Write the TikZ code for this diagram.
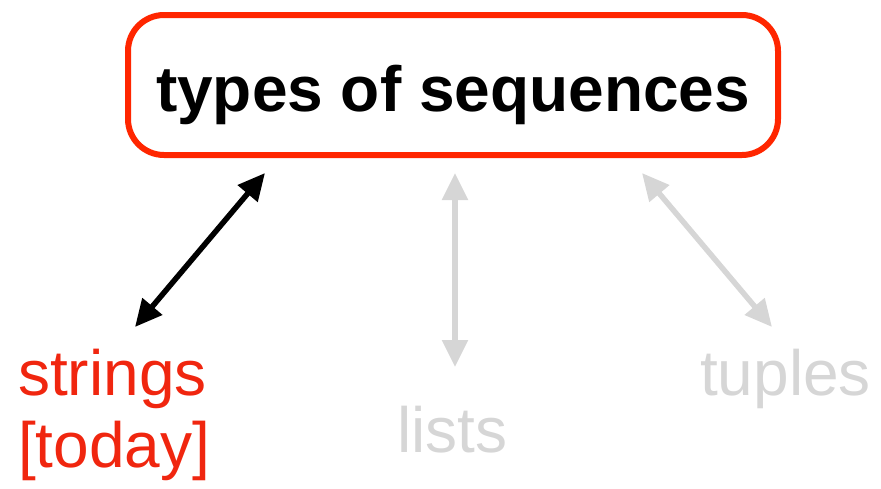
\documentclass[tikz,border=0pt]{standalone}
\usepackage{fontspec}
\setmainfont{Liberation Sans}
\usetikzlibrary{arrows.meta}
\definecolor{boxred}{HTML}{FF2600}
\definecolor{txtred}{HTML}{F0260F}
\definecolor{lightgray}{HTML}{D6D6D6}
\tikzset{
  titlebox/.style={draw=boxred, line width=6pt, rounded corners=36pt,
    minimum width=650pt, minimum height=140pt, inner sep=0pt,
    font=\fontsize{64}{70}\selectfont\bfseries, text height=52pt, text depth=0pt},
  label/.style={inner sep=0pt, font=\fontsize{64}{72}\selectfont, align=left},
  dblarrow/.style={line width=5.5pt, {Triangle[length=27pt,width=25pt]}-{Triangle[length=27pt,width=25pt]}},
}
\begin{document}
\begin{tikzpicture}[x=1pt,y=-1pt]
\useasboundingbox (0,0) rectangle (881,488);
\node[titlebox] (title) at (453,85) {types of sequences};
\node[label, text=txtred, anchor=base west] (strings) at (18,467) {strings\\{}[today]};
\node[label, text=lightgray, anchor=base west] (lists) at (397,452) {lists};
\node[label, text=lightgray, anchor=base west] (tuples) at (700,395) {tuples};
\coordinate (a1) at (265,173);
\coordinate (a2) at (135,327);
\coordinate (b1) at (455,173);
\coordinate (b2) at (455,367);
\coordinate (c1) at (642,173);
\coordinate (c2) at (772,327);
\draw[dblarrow, black] (a1) -- (a2);
\draw[dblarrow, lightgray] (b1) -- (b2);
\draw[dblarrow, lightgray] (c1) -- (c2);
\end{tikzpicture}
\end{document}
